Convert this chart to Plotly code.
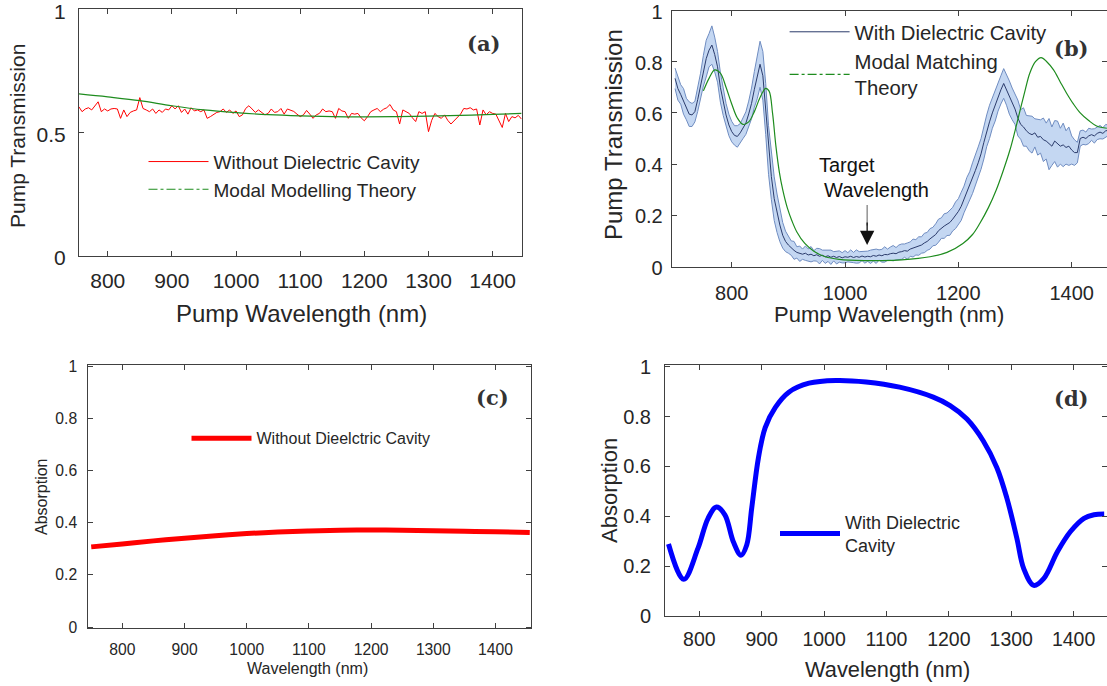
import numpy as np
import plotly.graph_objects as go

# ---------------- data ----------------
# (a) Pump transmission without dielectric cavity (measured, noisy) and modal theory
wl_a = np.arange(755, 1446, 5)
trans_a_meas = [
    0.605, 0.585, 0.596, 0.601, 0.592, 0.609, 0.625, 0.585, 0.596, 0.588,
    0.596, 0.598, 0.596, 0.558, 0.592, 0.565, 0.582, 0.588, 0.592, 0.642,
    0.598, 0.592, 0.585, 0.596, 0.578, 0.592, 0.582, 0.596, 0.592, 0.609,
    0.596, 0.609, 0.582, 0.596, 0.575, 0.601, 0.588, 0.592, 0.585, 0.592,
    0.558, 0.565, 0.575, 0.582, 0.585, 0.596, 0.582, 0.592, 0.578, 0.588,
    0.565, 0.572, 0.598, 0.609, 0.596, 0.582, 0.592, 0.582, 0.572, 0.578,
    0.596, 0.582, 0.585, 0.598, 0.575, 0.596, 0.590,
    0.586, 0.575, 0.565, 0.572, 0.590, 0.575, 0.558, 0.572, 0.578, 0.596,
    0.585, 0.588, 0.585, 0.558, 0.598, 0.588, 0.585, 0.558, 0.578, 0.575,
    0.578, 0.560, 0.548, 0.565, 0.585, 0.592, 0.598, 0.585, 0.595, 0.601,
    0.614, 0.592, 0.585, 0.535, 0.592, 0.585, 0.578, 0.560, 0.545, 0.585,
    0.578, 0.585, 0.504, 0.550, 0.578, 0.565, 0.558, 0.572, 0.550, 0.535,
    0.548, 0.558, 0.575, 0.598, 0.596, 0.601, 0.592, 0.596, 0.531, 0.592,
    0.572, 0.585, 0.578, 0.575, 0.550, 0.521, 0.578, 0.545, 0.565, 0.560,
    0.570, 0.555,
]
wl_a_theory = [755, 800, 850, 900, 950, 1000, 1050, 1100, 1150, 1200, 1250, 1300, 1350, 1400, 1445]
trans_a_theory = [0.657, 0.645, 0.630, 0.609, 0.592, 0.581, 0.573, 0.568, 0.565, 0.564,
                  0.565, 0.567, 0.570, 0.574, 0.578]

# (b) Pump transmission with dielectric cavity: mean and half spread, plus theory
wl_b = np.arange(700, 1466, 5)
trans_b_mean = [
    0.735, 0.695, 0.672, 0.645, 0.615, 0.595, 0.592, 0.605, 0.652, 0.705,
    0.765, 0.812, 0.845, 0.865, 0.828, 0.780, 0.700, 0.640, 0.592, 0.553,
    0.527, 0.512, 0.508, 0.522, 0.540, 0.560, 0.596, 0.637, 0.692, 0.740,
    0.790, 0.745, 0.615, 0.455, 0.351, 0.265, 0.208, 0.162, 0.122, 0.098,
    0.084, 0.072, 0.063, 0.055, 0.050, 0.048, 0.052, 0.045, 0.048, 0.042,
    0.046, 0.040, 0.044, 0.038, 0.042, 0.036, 0.040, 0.035, 0.039, 0.034,
    0.038, 0.036, 0.040, 0.035, 0.039, 0.036, 0.041, 0.037, 0.040, 0.038,
    0.043, 0.040, 0.045, 0.042, 0.047, 0.046, 0.050, 0.052, 0.050, 0.056,
    0.058, 0.062, 0.060, 0.068, 0.072, 0.075, 0.080, 0.084, 0.092, 0.098,
    0.108, 0.117, 0.125, 0.140, 0.150, 0.158, 0.165, 0.172, 0.185, 0.200,
    0.215, 0.235, 0.262, 0.290, 0.315, 0.345, 0.375, 0.405, 0.440, 0.485,
    0.530, 0.565, 0.600, 0.630, 0.665, 0.690, 0.715, 0.690, 0.660, 0.635,
    0.615, 0.580, 0.555, 0.545, 0.530, 0.520, 0.515, 0.522, 0.505, 0.508,
    0.495, 0.490, 0.478, 0.470, 0.490, 0.478, 0.470, 0.475, 0.465, 0.470,
    0.455, 0.445, 0.445, 0.500, 0.505, 0.500, 0.510, 0.515, 0.510, 0.520,
    0.525, 0.520, 0.530, 0.532,
]
trans_b_spread = [
    0.040, 0.045, 0.038, 0.050, 0.042, 0.048, 0.045, 0.040, 0.046, 0.050,
    0.060, 0.072, 0.065, 0.075, 0.068, 0.060, 0.058, 0.050, 0.045, 0.042,
    0.040, 0.038, 0.042, 0.036, 0.040, 0.044, 0.050, 0.060, 0.070, 0.085,
    0.090, 0.095, 0.100, 0.095, 0.090, 0.085, 0.075, 0.065, 0.050, 0.040,
    0.032, 0.028, 0.035, 0.022, 0.030, 0.020, 0.028, 0.024, 0.030, 0.020,
    0.025, 0.030, 0.020, 0.026, 0.022, 0.028, 0.018, 0.025, 0.022, 0.020,
    0.024, 0.018, 0.025, 0.020, 0.026, 0.022, 0.018, 0.024, 0.020, 0.026,
    0.022, 0.028, 0.020, 0.025, 0.030, 0.022, 0.026, 0.030, 0.024, 0.028,
    0.030, 0.026, 0.032, 0.028, 0.035, 0.030, 0.036, 0.032, 0.038, 0.035,
    0.040, 0.036, 0.042, 0.045, 0.040, 0.048, 0.044, 0.050, 0.046, 0.052,
    0.050, 0.055, 0.052, 0.058, 0.055, 0.060, 0.058, 0.062, 0.060, 0.065,
    0.062, 0.065, 0.060, 0.062, 0.058, 0.055, 0.058, 0.060, 0.065, 0.062,
    0.060, 0.070, 0.058, 0.075, 0.060, 0.068, 0.072, 0.055, 0.070, 0.065,
    0.085, 0.070, 0.100, 0.075, 0.080, 0.090, 0.070, 0.085, 0.065, 0.075,
    0.055, 0.050, 0.040, 0.030, 0.028, 0.025, 0.030, 0.022, 0.028, 0.024,
    0.026, 0.022, 0.025, 0.020,
]
wl_b_theory = [750, 760, 770, 780, 790, 800, 810, 820, 830, 840, 850, 860, 866, 872, 878,
               884, 890, 898, 906, 915, 929, 945, 965, 990, 1035, 1062, 1100, 1150,
               1180, 1208, 1225, 1238, 1253, 1267, 1280, 1291, 1300, 1309, 1318, 1326,
               1336, 1346, 1356, 1368, 1380, 1391, 1403, 1415, 1430, 1444, 1462]
trans_b_theory = [0.686, 0.735, 0.768, 0.755, 0.700, 0.635, 0.580, 0.555, 0.565, 0.605,
                  0.660, 0.696, 0.685, 0.600, 0.470, 0.370, 0.300, 0.230, 0.180, 0.135,
                  0.090, 0.060, 0.038, 0.028, 0.023, 0.023, 0.026, 0.038, 0.055, 0.090,
                  0.125, 0.169, 0.230, 0.300, 0.380, 0.455, 0.530, 0.611, 0.690, 0.755,
                  0.800, 0.816, 0.800, 0.768, 0.720, 0.677, 0.635, 0.600, 0.570, 0.549,
                  0.540]

# (c) Absorption without cavity
wl_c = [750, 800, 850, 900, 950, 1000, 1050, 1100, 1150, 1200, 1250, 1300, 1350, 1400, 1455]
abs_c = [0.307, 0.318, 0.330, 0.340, 0.350, 0.358, 0.364, 0.368, 0.371, 0.372,
         0.371, 0.369, 0.367, 0.365, 0.362]

# (d) Absorption with cavity
wl_d = [750.6, 775, 797.8, 814, 827.5, 841, 854.5, 866.8, 876, 884, 894.8, 905.6, 921.9,
        943.5, 975.8, 1018.8, 1067.3, 1121, 1175, 1202, 1229, 1255, 1277, 1293, 1309,
        1320, 1336, 1352, 1374, 1395, 1416.6, 1432.6, 1449]
abs_d = [0.289, 0.147, 0.271, 0.392, 0.437, 0.406, 0.298, 0.244, 0.285, 0.433, 0.635,
         0.756, 0.837, 0.898, 0.934, 0.945, 0.939, 0.918, 0.878, 0.844, 0.790, 0.703,
         0.595, 0.473, 0.312, 0.190, 0.123, 0.150, 0.258, 0.339, 0.392, 0.406, 0.409]

# ---------------- figure ----------------
W, H = 1107, 686
def px(x):
    return x / W
def py(y):
    return 1 - y / H

FONT = "Liberation Sans, Arial, sans-serif"
TXT = "#262626"
AXC = "#404040"
GREEN = "#1e8c1e"

fig = go.Figure()

# (a)
fig.add_trace(go.Scatter(x=wl_a, y=trans_a_meas, mode="lines", xaxis="x", yaxis="y",
                         line=dict(color="#ff0000", width=1),
                         name="Without Dielectric Cavity", legend="legend"))
fig.add_trace(go.Scatter(x=wl_a_theory, y=trans_a_theory, mode="lines", xaxis="x", yaxis="y",
                         line=dict(color=GREEN, width=1.2, shape="spline"), showlegend=False))
fig.add_trace(go.Scatter(x=[None], y=[None], mode="lines", xaxis="x", yaxis="y",
                         line=dict(color=GREEN, width=1, dash="dashdot"),
                         name="Modal Modelling Theory", legend="legend"))

# (b)
mean_b = np.array(trans_b_mean)
spr_b = np.array(trans_b_spread)
fig.add_trace(go.Scatter(x=wl_b, y=mean_b - spr_b, mode="lines", xaxis="x2", yaxis="y2",
                         line=dict(color="#6f8cc0", width=1), showlegend=False))
fig.add_trace(go.Scatter(x=wl_b, y=mean_b + spr_b, mode="lines", xaxis="x2", yaxis="y2",
                         line=dict(color="#6f8cc0", width=1), fill="tonexty",
                         fillcolor="rgba(176,202,238,0.75)", showlegend=False))
fig.add_trace(go.Scatter(x=wl_b, y=mean_b, mode="lines", xaxis="x2", yaxis="y2",
                         line=dict(color="#2b3b6b", width=1),
                         name="With Dielectric Cavity", legend="legend2"))
fig.add_trace(go.Scatter(x=wl_b_theory, y=trans_b_theory, mode="lines", xaxis="x2", yaxis="y2",
                         line=dict(color=GREEN, width=1.2, shape="spline"), showlegend=False))
fig.add_trace(go.Scatter(x=[None], y=[None], mode="lines", xaxis="x2", yaxis="y2",
                         line=dict(color=GREEN, width=1.2, dash="dashdot"),
                         name="Modal Matching<br>Theory", legend="legend2"))

# (c)
fig.add_trace(go.Scatter(x=wl_c, y=abs_c, mode="lines", xaxis="x3", yaxis="y3",
                         line=dict(color="#ff0000", width=5, shape="spline"),
                         name="Without Dieelctric Cavity", legend="legend3"))
# (d)
fig.add_trace(go.Scatter(x=wl_d, y=abs_d, mode="lines", xaxis="x4", yaxis="y4",
                         line=dict(color="#0000ff", width=5, shape="spline"),
                         name="With Dielectric<br>Cavity", legend="legend4"))


def axis(domain, rng, dtick, tickfont, standoff, anchor, tick0=None, shift=0):
    d = dict(domain=domain, range=rng, dtick=dtick, showgrid=False, zeroline=False,
             showline=True, linecolor=AXC, linewidth=1, mirror="ticks",
             ticks="inside", ticklen=5, tickcolor=AXC, tickwidth=1, automargin=False,
             ticklabeloverflow="allow", ticklabelshift=shift,
             tickfont=dict(family=FONT, size=tickfont, color=TXT),
             ticklabelstandoff=standoff, anchor=anchor)
    if tick0 is not None:
        d["tick0"] = tick0
    return d


def legend(x, y, size):
    return dict(x=px(x), y=py(y), xanchor="left", yanchor="top", traceorder="normal",
                bgcolor="rgba(0,0,0,0)", font=dict(family=FONT, size=size, color=TXT),
                itemwidth=60, tracegroupgap=0)


fig.update_layout(
    width=W, height=H, autosize=False,
    margin=dict(l=0, r=0, t=0, b=0, autoexpand=False),
    paper_bgcolor="white", plot_bgcolor="white",
    font=dict(family=FONT, color=TXT),
    xaxis=axis([px(79), px(521.7)], [755.2, 1445.3], 100, 21, 6, "y", 800),
    yaxis=axis([py(256), py(9.3)], [0, 1], 0.5, 21, 8, "x", 0, shift=2),
    xaxis2=axis([px(671.7), 1.0], [694.1, 1462.3], 200, 20, 8, "y2", 800),
    yaxis2=axis([py(266.5), py(10.5)], [0, 1], 0.2, 20, 4, "x2", 0, shift=1),
    xaxis3=axis([px(88.3), px(531)], [745.3, 1457], 100, 15.7, 7, "y3", 800),
    yaxis3=axis([py(628.3), py(365)], [-0.005, 1.004], 0.2, 15.7, 7, "x3", 0),
    xaxis4=axis([px(665), 1.0], [745, 1453.5], 100, 19.5, 6, "y4", 800),
    yaxis4=axis([py(616), py(365)], [0, 1.007], 0.2, 20, 9, "x4", 0),
    legend=legend(143.5, 142.7, 19),
    legend2=legend(784.6, 12.1, 20.3),
    legend3=legend(186.5, 421.3, 16),
    legend4=legend(775, 503.5, 18),
)

ann = []
def label(x, y, text, size, angle=0):
    ann.append(dict(x=px(x), y=py(y), xref="paper", yref="paper", text=text,
                    showarrow=False, textangle=angle, xanchor="center", yanchor="middle",
                    font=dict(family=FONT, size=size, color=TXT)))

# axis titles
label(301, 313, "Pump Wavelength (nm)", 24)
label(17, 136, "Pump Transmission", 21, -90)
label(889, 315, "Pump Wavelength (nm)", 22)
label(613, 135, "Pump Transmission", 24, -90)
label(307, 668, "Wavelength (nm)", 16)
label(41, 497, "Absorption", 16, -90)
label(887, 669, "Wavelength (nm)", 21.8)
label(610, 491, "Absorption", 22, -90)

# panel tags
for (x, y, t) in [(483, 43, "(a)"), (1071, 48, "(b)"), (492, 397, "(c)"), (1071, 398, "(d)")]:
    ann.append(dict(x=px(x), y=py(y), xref="paper", yref="paper", text="<b>" + t + "</b>",
                    showarrow=False, xanchor="center", yanchor="middle",
                    font=dict(family="DejaVu Serif, Liberation Serif, serif", size=21, color="#333333")))

# target wavelength annotation in (b)
ann.append(dict(x=950, y=0.396, xref="x2", yref="y2", text="Target", showarrow=False,
                xanchor="left", yanchor="middle", font=dict(family=FONT, size=20, color="#111111")))
ann.append(dict(x=959, y=0.299, xref="x2", yref="y2", text="Wavelength", showarrow=False,
                xanchor="left", yanchor="middle", font=dict(family=FONT, size=20, color="#111111")))
ann.append(dict(x=1039, y=0.16, xref="x2", yref="y2", ax=0, ay=-22, text="",
                showarrow=True, arrowhead=0, arrowwidth=1.2, arrowcolor="#777777"))
ann.append(dict(x=1039, y=0.084, xref="x2", yref="y2", ax=0, ay=-24, text="",
                showarrow=True, arrowhead=2, arrowsize=2.2, arrowwidth=1.3, arrowcolor="#111111"))

fig.update_layout(annotations=ann)
fig.write_html("out.html",
               config={"displayModeBar": False},
               post_script="document.body.style.margin='0';document.body.style.overflow='hidden';")
